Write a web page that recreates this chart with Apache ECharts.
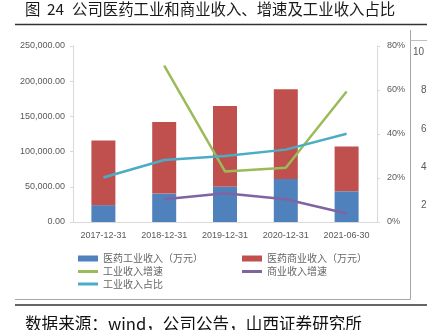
<!DOCTYPE html>
<html>
<head>
<meta charset="utf-8">
<script src="https://cdn.jsdelivr.net/npm/echarts@6/dist/echarts.min.js"></script>
<style>
  html, body { margin: 0; padding: 0; background: #fff; }
  #chart { width: 427px; height: 330px; }
</style>
</head>
<body>
<div id="chart"></div>
<script>
// Reporting periods
const categories = ['2017-12-31', '2018-12-31', '2019-12-31', '2020-12-31', '2021-06-30'];
// Revenue, 万元
const industryRevenue = [23900, 40400, 49900, 61200, 43600];
const commercialRevenue = [91900, 101600, 114700, 127500, 63800];
// Growth rates and industrial share, %
const industryGrowth = [null, 71.1, 23.0, 24.7, 59.3];
const commercialGrowth = [null, 10.3, 13.1, 10.3, 3.9];
const industryShare = [20.2, 28.2, 30.0, 32.9, 40.1];
// Labels of the neighbouring panel's axis that show at the right edge
const sidePanelTicks = ['10', '8', '6', '4', '2'];

const names = ['医药工业收入（万元）', '医药商业收入（万元）', '工业收入增速', '商业收入增速', '工业收入占比'];
const colors = ['#4F81BD', '#C0504D', '#9BBB59', '#8064A2', '#4BACC6'];

const axisText = { color: '#595959', fontSize: 9, fontFamily: 'Liberation Sans' };
const axisGray = '#D9D9D9';

function legendAt(name, left, centerY, isBar) {
  const h = isBar ? 6 : 3;
  return {
    data: [{ name: name, icon: 'rect' }],
    left: left,
    top: centerY - 6,
    padding: 0,
    itemWidth: 20,
    itemHeight: h,
    textStyle: { color: '#666', fontSize: 10, fontFamily: 'Noto Sans CJK SC', lineHeight: 12 },
    selectedMode: false
  };
}

const graphics = [
  { type: 'text', left: 25, top: 1, style: { text: '图', fill: '#1a1a1a', fontSize: 15.4, fontFamily: 'Noto Sans CJK SC' } },
  { type: 'text', left: 47, top: 1, style: { text: '24', fill: '#1a1a1a', fontSize: 15.4, fontFamily: 'Noto Sans CJK SC' } },
  { type: 'text', left: 72, top: 1, style: { text: '公司医药工业和商业收入、增速及工业收入占比', fill: '#1a1a1a', fontSize: 15.4, fontFamily: 'Noto Sans CJK SC' } },
  { type: 'line', shape: { x1: 15, y1: 24.5, x2: 427, y2: 24.5 }, style: { stroke: '#333', lineWidth: 1.5 } },
  { type: 'line', shape: { x1: 410.5, y1: 30, x2: 410.5, y2: 299.5 }, style: { stroke: '#A6A6A6', lineWidth: 1 } },
  { type: 'line', shape: { x1: 410.5, y1: 40.5, x2: 427, y2: 40.5 }, style: { stroke: '#BFBFBF', lineWidth: 1 } },
  { type: 'line', shape: { x1: 15, y1: 299.5, x2: 410.5, y2: 299.5 }, style: { stroke: '#A6A6A6', lineWidth: 1 } },
  { type: 'line', shape: { x1: 15, y1: 305, x2: 427, y2: 305 }, style: { stroke: '#333', lineWidth: 1.5 } },
  { type: 'text', left: 25, top: 315, style: { text: '数据来源：wind，公司公告，山西证券研究所', fill: '#111', fontSize: 16.6, fontFamily: 'Noto Sans CJK SC' } }
];
const sideY = [53, 91.5, 130, 168, 206];
sidePanelTicks.forEach(function (t, i) {
  graphics.push({ type: 'text', left: i === 0 ? 413 : 421, top: sideY[i] - 6, style: { text: t, fill: '#595959', fontSize: 10, fontFamily: 'Liberation Sans' } });
});

const chart = echarts.init(document.getElementById('chart'), null, { renderer: 'canvas' });
chart.setOption({
  animation: false,
  backgroundColor: '#fff',
  color: colors,
  grid: { left: 73, right: 50, top: 46, bottom: 108, containLabel: false },
  legend: [
    legendAt(names[0], 78, 258.5, true),
    legendAt(names[1], 242, 258.5, true),
    legendAt(names[2], 78, 271.5, false),
    legendAt(names[3], 242, 271.5, false),
    legendAt(names[4], 78, 284, false)
  ],
  xAxis: {
    type: 'category',
    data: categories,
    axisLine: { lineStyle: { color: axisGray } },
    axisTick: { show: false },
    axisLabel: Object.assign({ margin: 9 }, axisText)
  },
  yAxis: [
    {
      type: 'value', min: 0, max: 250000, interval: 50000,
      axisLine: { show: true, lineStyle: { color: axisGray } },
      axisTick: { show: true, length: 3, lineStyle: { color: axisGray } },
      splitLine: { show: false },
      axisLabel: Object.assign({
        margin: 8,
        formatter: function (v) { return v.toLocaleString('en-US', { minimumFractionDigits: 2, maximumFractionDigits: 2 }); }
      }, axisText)
    },
    {
      type: 'value', min: 0, max: 80, interval: 20, position: 'right',
      axisLine: { show: true, lineStyle: { color: axisGray } },
      axisTick: { show: true, length: 3, lineStyle: { color: axisGray } },
      splitLine: { show: false },
      axisLabel: Object.assign({ margin: 10, formatter: '{value}%' }, axisText)
    }
  ],
  series: [
    { name: names[0], type: 'bar', stack: 'rev', data: industryRevenue, barWidth: 24, itemStyle: { color: colors[0] } },
    { name: names[1], type: 'bar', stack: 'rev', data: commercialRevenue, barWidth: 24, itemStyle: { color: colors[1] } },
    { name: names[2], type: 'line', yAxisIndex: 1, data: industryGrowth, symbol: 'none', z: 5, lineStyle: { width: 2.5, color: colors[2] }, itemStyle: { color: colors[2] } },
    { name: names[3], type: 'line', yAxisIndex: 1, data: commercialGrowth, symbol: 'none', z: 5, lineStyle: { width: 2.5, color: colors[3] }, itemStyle: { color: colors[3] } },
    { name: names[4], type: 'line', yAxisIndex: 1, data: industryShare, symbol: 'none', z: 5, lineStyle: { width: 2.5, color: colors[4] }, itemStyle: { color: colors[4] } }
  ],
  graphic: graphics
});
</script>
</body>
</html>
